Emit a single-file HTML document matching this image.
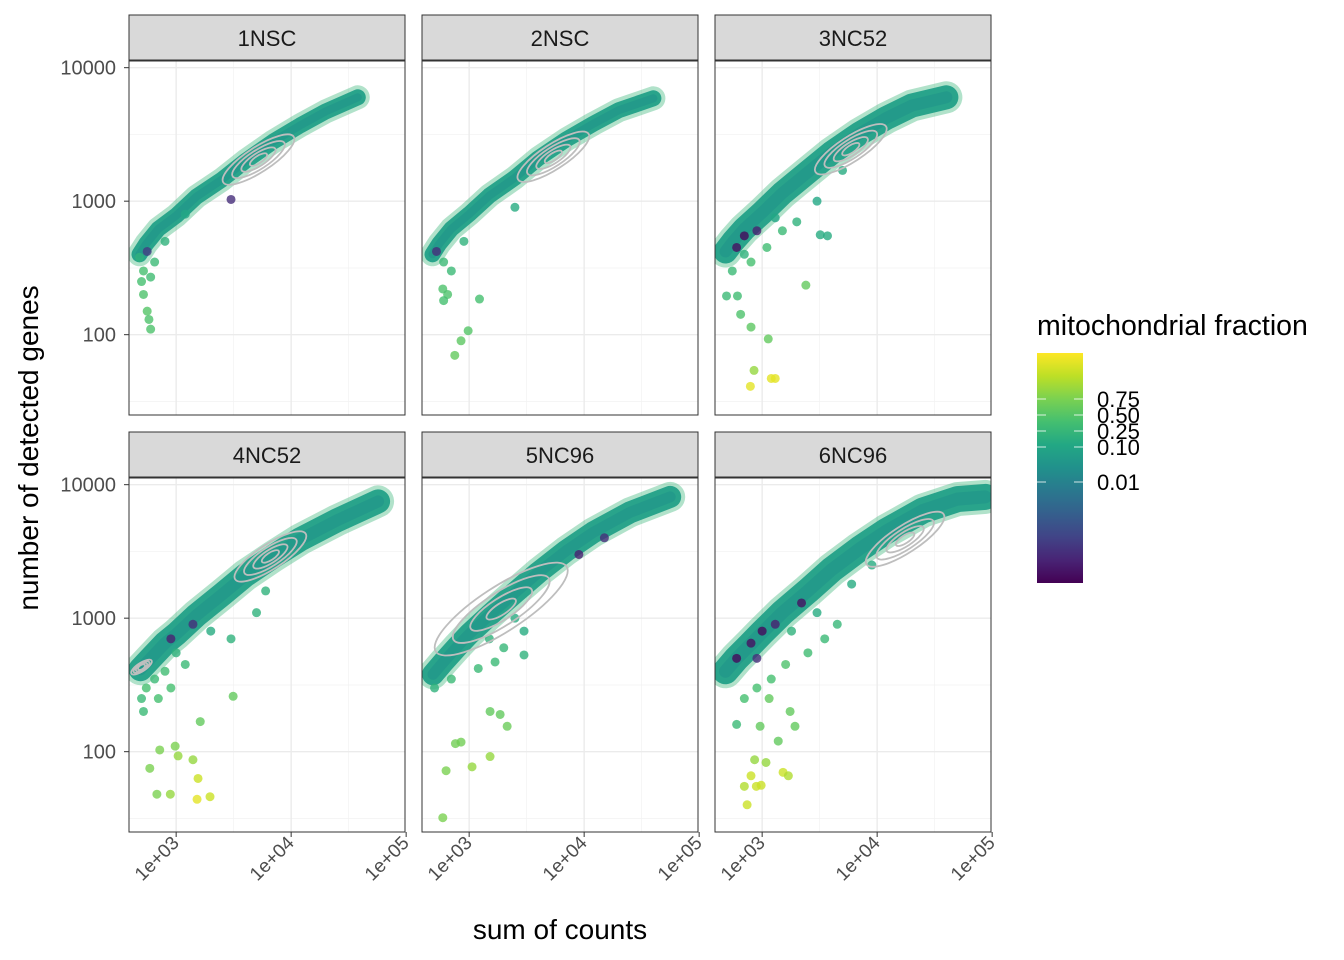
<!DOCTYPE html>
<html><head><meta charset="utf-8"><style>
html,body{margin:0;padding:0;background:#fff;}
svg{display:block;font-family:"Liberation Sans",sans-serif;}
</style></head><body>
<svg id="chart" width="1344" height="960" viewBox="0 0 1344 960">
<defs>
<linearGradient id="vir" x1="0" y1="1" x2="0" y2="0">
<stop offset="0" stop-color="#440154"/><stop offset="0.1" stop-color="#482475"/><stop offset="0.2" stop-color="#414487"/><stop offset="0.3" stop-color="#355f8d"/><stop offset="0.4" stop-color="#2a788e"/><stop offset="0.5" stop-color="#21918c"/><stop offset="0.6" stop-color="#22a884"/><stop offset="0.7" stop-color="#44bf70"/><stop offset="0.8" stop-color="#7ad151"/><stop offset="0.9" stop-color="#bddf26"/><stop offset="1" stop-color="#fde725"/>
</linearGradient>
</defs>
<g id="panels"></g>
<text x="560" y="939" text-anchor="middle" font-size="28" fill="#000">sum of counts</text>
<text transform="translate(38,448) rotate(-90)" text-anchor="middle" font-size="28" fill="#000">number of detected genes</text>
<g>
<text x="1037" y="335" font-size="28.5" fill="#000">mitochondrial fraction</text>
<rect x="1037" y="353" width="46" height="230" fill="url(#vir)"/>
<g id="cbticks"></g>
</g>
</svg>
<script>
const NS="http://www.w3.org/2000/svg";
const panelNames=["1NSC","2NSC","3NC52","4NC52","5NC96","6NC96"];
const xTicks=[1000,10000,100000];
const xTickLabels=["1e+03","1e+04","1e+05"];
const yTicks=[100,1000,10000];
const yTickLabels=["100","1000","10000"];
const cbValues=[0.01,0.10,0.25,0.50,0.75];
const cbLabels=["0.01","0.10","0.25","0.50","0.75"];
// trend band [counts, genes]
const trend1=[[480,400],[550,480],[700,620],[1000,780],[1500,1080],[2500,1450],[4000,2000],[7000,2800],[12000,3700],[20000,4700],[38000,6000]];
const trend2=[[480,400],[550,480],[700,620],[1000,800],[1500,1100],[2500,1500],[4000,2100],[7000,2900],[12000,3800],[20000,4800],[40000,5900]];
const trend3=[[480,420],[560,500],[700,620],[1000,820],[1500,1150],[2500,1650],[4000,2300],[7000,3200],[12000,4200],[20000,5200],[40000,6000]];
const trend4=[[490,415],[600,500],[800,650],[1000,760],[1500,1050],[2500,1500],[4000,2100],[7000,2900],[12000,3900],[25000,5400],[57000,7500]];
const trend5=[[485,380],[600,470],[800,620],[1000,760],[1500,1050],[2500,1550],[4000,2200],[7000,3200],[12000,4400],[25000,6200],[56000,8100]];
const trend6=[[480,400],[600,500],[800,640],[1000,780],[1500,1100],[2500,1600],[4000,2300],[7000,3300],[12000,4500],[25000,6400],[50000,7800],[87000,8100]];
const trends=[trend1,trend2,trend3,trend4,trend5,trend6];
// outlier points [counts, genes, mito]
const pts1=[[500,250,0.4],[520,200,0.45],[560,150,0.5],[580,130,0.45],[600,110,0.45],[520,300,0.4],[600,270,0.35],[650,350,0.3],[480,380,0.2],[3000,1030,0.003],[560,420,0.004],[800,500,0.2],[1200,800,0.1]];
const pts2=[[590,220,0.45],[650,200,0.45],[600,180,0.4],[1230,185,0.4],[980,107,0.5],[850,90,0.55],[750,70,0.6],[700,300,0.3],[520,420,0.003],[2500,900,0.15],[600,350,0.3],[900,500,0.2]];
const pts3=[[490,195,0.3],[610,195,0.35],[650,142,0.45],[800,114,0.55],[1130,93,0.6],[850,54,0.8],[790,41,0.95],[1200,47,0.95],[1300,47,0.95],[2400,235,0.6],[3200,560,0.15],[3700,550,0.15],[700,550,0.0005],[600,450,0.001],[900,600,0.002],[800,350,0.4],[1100,450,0.35],[1500,600,0.3],[2000,700,0.2],[3000,1000,0.12],[5000,1700,0.15],[550,300,0.3],[700,400,0.2],[1300,750,0.1]];
const pts4=[[590,75,0.75],[680,48,0.75],[890,48,0.8],[720,103,0.75],[980,110,0.75],[1040,93,0.8],[1400,87,0.8],[1550,63,0.9],[1970,46,0.9],[1520,44,0.95],[1620,168,0.6],[3130,260,0.6],[500,250,0.3],[550,300,0.4],[700,250,0.4],[900,300,0.4],[1200,450,0.3],[800,400,0.35],[3000,700,0.2],[5000,1100,0.2],[900,700,0.002],[1400,900,0.003],[6000,1600,0.2],[520,200,0.3],[650,350,0.3],[1000,550,0.2],[2000,800,0.15]];
const pts5=[[590,32,0.75],[630,72,0.75],[760,115,0.7],[850,118,0.7],[1060,77,0.8],[1520,92,0.8],[1520,200,0.6],[1860,190,0.6],[2140,155,0.65],[3000,530,0.2],[1680,470,0.3],[500,300,0.2],[700,350,0.3],[1200,420,0.3],[2000,600,0.25],[3000,800,0.15],[9000,3000,0.002],[15000,4000,0.003],[1500,700,0.2],[2500,1000,0.15]];
const pts6=[[740,40,0.9],[700,55,0.85],[800,66,0.9],[890,55,0.9],[980,56,0.9],[1080,83,0.8],[860,87,0.8],[1520,70,0.9],[1690,66,0.85],[1380,120,0.6],[1750,200,0.6],[1930,155,0.6],[1150,250,0.6],[960,155,0.6],[600,160,0.3],[700,250,0.4],[900,300,0.4],[1200,350,0.4],[1600,450,0.45],[2500,550,0.35],[3500,700,0.3],[4500,900,0.25],[600,500,0.0005],[800,650,0.001],[1000,800,0.0005],[1300,900,0.002],[2200,1300,0.001],[900,500,0.003],[6000,1800,0.15],[9000,2500,0.15],[1800,800,0.2],[3000,1100,0.15]];
const ptsAll=[pts1,pts2,pts3,pts4,pts5,pts6];
// density contours [center counts, center genes, size]
const contours=[[[5200,2050,1]],[[5400,2150,1]],[[5900,2450,1]],[[6600,2900,1],[500,430,0.25]],[[1900,1170,1.9]],[[17500,3900,1.1]]];
const bandWidths=[16,16,24,24,22,26];

const cbStops=[[0,583],[0.01,482],[0.10,447],[0.25,431],[0.50,415],[0.75,399],[1,353]];
function cbY(v){for(let i=1;i<cbStops.length;i++){if(v<=cbStops[i][0]){const a=cbStops[i-1],b=cbStops[i];return a[1]+(v-a[0])/(b[0]-a[0])*(b[1]-a[1]);}}return 353;}
const vir=["#440154","#482475","#414487","#355f8d","#2a788e","#21918c","#22a884","#44bf70","#7ad151","#bddf26","#fde725"];
function hex(h){return [parseInt(h.substr(1,2),16),parseInt(h.substr(3,2),16),parseInt(h.substr(5,2),16)];}
function viridis(t){t=Math.max(0,Math.min(1,t));const f=t*10,i=Math.min(9,Math.floor(f)),r=f-i;const a=hex(vir[i]),b=hex(vir[i+1]);return "rgb("+a.map((c,k)=>Math.round(c+(b[k]-c)*r)).join(",")+")";}
function mitoColor(m){return viridis((583-cbY(m))/230);}
function mk(tag,attrs,parent){const e=document.createElementNS(NS,tag);for(const k in attrs)e.setAttribute(k,attrs[k]);parent.appendChild(e);return e;}

const root=document.getElementById("panels");
const colX=[129,422,715],rowStrip=[15,432],rowTop=[61,478],PW=276,PH=354;
panelNames.forEach((name,p)=>{
  const c=p%3,r=Math.floor(p/3),L=colX[c],T=rowTop[r];
  const px=v=>L+(Math.log10(v)-2.59)*115;
  const py=v=>T+(4.05-Math.log10(v))*133.5;
  const g=mk("g",{},root);
  
  
  const strip=mk("rect",{x:L,y:rowStrip[r],width:PW,height:45,fill:"#d9d9d9",stroke:"#333","stroke-width":1},g);
  
  
  const st=mk("text",{x:L+PW/2,y:rowStrip[r]+31,"text-anchor":"middle","font-size":"22",fill:"#1a1a1a"},g);
  st.textContent=name;
  
  
  mk("rect",{x:L,y:T,width:PW,height:PH,fill:"#fff"},g);
  const clip=mk("clipPath",{id:"cp"+p},g);mk("rect",{x:L,y:T,width:PW,height:PH},clip);
  const inner=mk("g",{"clip-path":"url(#cp"+p+")"},g);
  [316,3162,31623].forEach(v=>{const x=px(v);mk("line",{x1:x,x2:x,y1:T,y2:T+PH,stroke:"#f2f2f2","stroke-width":0.7},inner);});
  [31.6,316,3162].forEach(v=>{const y=py(v);mk("line",{x1:L,x2:L+PW,y1:y,y2:y,stroke:"#f2f2f2","stroke-width":0.7},inner);});
  xTicks.forEach(v=>{const x=px(v);mk("line",{x1:x,x2:x,y1:T,y2:T+PH,stroke:"#ebebeb","stroke-width":1.4},inner);});
  yTicks.forEach(v=>{const y=py(v);mk("line",{x1:L,x2:L+PW,y1:y,y2:y,stroke:"#ebebeb","stroke-width":1.4},inner);});
  const tr=trends[p];
  const d=tr.map((q,i)=>(i?"L":"M")+px(q[0]).toFixed(1)+","+py(q[1]).toFixed(1)).join(" ");
  mk("path",{d:d,fill:"none",stroke:"#3db77a","stroke-width":bandWidths[p]+8,"stroke-linecap":"round","stroke-linejoin":"round",opacity:0.4},inner);
  const band=mk("path",{d:d,fill:"none",stroke:"#22a087","stroke-width":bandWidths[p],"stroke-linecap":"round","stroke-linejoin":"round",opacity:0.95},inner);
  
  
  mk("path",{d:d,fill:"none",stroke:"#1f948b","stroke-width":bandWidths[p]/2,"stroke-linecap":"round",opacity:0.6},inner);
  ptsAll[p].forEach(q=>{
    const pt=mk("circle",{cx:px(q[0]),cy:py(q[1]),r:4.5,fill:mitoColor(q[2]),opacity:0.8},inner);
    
    
  });
  contours[p].forEach(cn=>{
    const cx=px(cn[0]),cy=py(cn[1]);
    [1,0.72,0.45,0.2].forEach(s=>{
      const e=mk("ellipse",{cx:cx,cy:cy,rx:40*cn[2]*s+2,ry:11*cn[2]*s+1.5,transform:"rotate(-33 "+cx+" "+cy+")",fill:"none",stroke:"#bebebe","stroke-width":1.8},inner);
      
      
    });
  });
  const border=mk("rect",{x:L,y:T,width:PW,height:PH,fill:"none",stroke:"#333","stroke-width":1},g);
  
  
  if(r===1){xTicks.forEach((v,i)=>{const x=px(v);mk("line",{x1:x,x2:x,y1:T+PH,y2:T+PH+5,stroke:"#333"},g);
    const t=mk("text",{transform:"translate("+(x+4)+","+(T+PH+12)+") rotate(-45)","text-anchor":"end","font-size":"19",fill:"#4d4d4d"},g);
    t.textContent=xTickLabels[i];
    
    });}
  if(c===0){yTicks.forEach((v,i)=>{const y=py(v);mk("line",{x1:L-5,x2:L,y1:y,y2:y,stroke:"#333"},g);
    const t=mk("text",{x:L-13,y:y+7,"text-anchor":"end","font-size":"20",fill:"#4d4d4d"},g);
    t.textContent=yTickLabels[i];
    
    });}
});
const cbg=document.getElementById("cbticks");
cbValues.forEach((v,i)=>{const y=cbY(v);
  mk("line",{x1:1037,x2:1046,y1:y,y2:y,stroke:"#fff","stroke-width":1,opacity:0.8},cbg);
  mk("line",{x1:1074,x2:1083,y1:y,y2:y,stroke:"#fff","stroke-width":1,opacity:0.8},cbg);
  const t=mk("text",{x:1097,y:y+8,"font-size":"22",fill:"#000"},cbg);
  t.textContent=cbLabels[i];
  
  
});
</script>
</body></html>
